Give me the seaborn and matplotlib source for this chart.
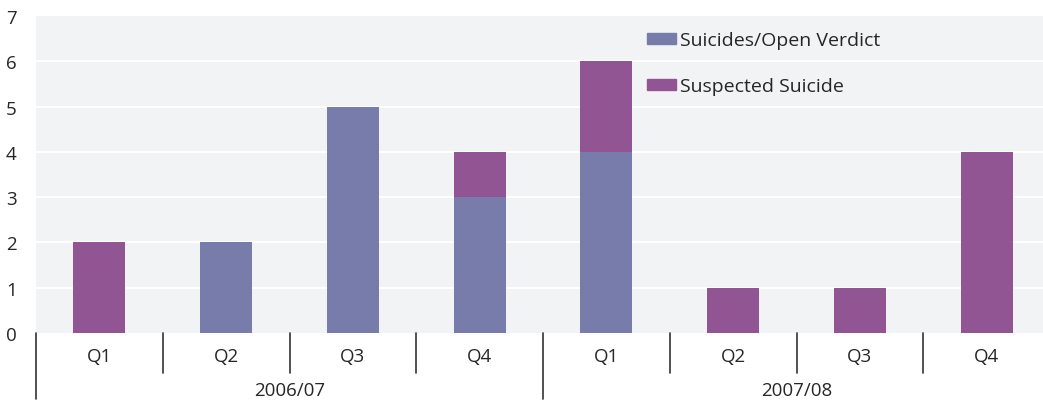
import matplotlib
matplotlib.use("Agg")
import matplotlib.pyplot as plt
import matplotlib.transforms as mtransforms
from matplotlib.patches import Patch
import seaborn as sns
import pandas as pd

# Quarterly counts
years = ["2006/07", "2007/08"]
quarters = ["Q1", "Q2", "Q3", "Q4"]
open_verdict = [0, 2, 5, 3, 4, 0, 0, 0]
suspected = [2, 0, 0, 1, 2, 1, 1, 4]
y_ticks = [0, 1, 2, 3, 4, 5, 6, 7]

labels = [f"{y} {q}" for y in years for q in quarters]
df = pd.DataFrame({
    "period": labels,
    "open": open_verdict,
    "suspected": suspected,
})
df["total"] = df["open"] + df["suspected"]

c_open = "#777cab"
c_susp = "#925594"
bg = "#f2f3f5"

sns.set_theme(style="white")
plt.rcParams["font.family"] = ["Open Sans", "DejaVu Sans"]

fig = plt.figure(figsize=(10.43, 4.02), dpi=100)
ax = fig.add_axes([36 / 1043, 68 / 402, 1014 / 1043, 317 / 402])
ax.set_facecolor(bg)

sns.barplot(data=df, x="period", y="total", order=labels, color=c_susp,
            width=0.41, saturation=1, linewidth=0, ax=ax, zorder=3)
sns.barplot(data=df, x="period", y="open", order=labels, color=c_open,
            width=0.41, saturation=1, linewidth=0, ax=ax, zorder=4)

ax.set_xlim(-0.5, len(labels) - 0.5)
ax.set_ylim(0, 7)
ax.set_yticks(y_ticks)
ax.set_yticklabels([str(v) for v in y_ticks], fontsize=13.5)
ax.tick_params(axis="y", length=0, pad=14)
for v in y_ticks[1:-1]:
    ax.axhline(v, color="white", lw=1.5, zorder=1)

ax.set_xticks(range(len(labels)))
ax.set_xticklabels(quarters * len(years), fontsize=13.5)
ax.tick_params(axis="x", length=0, pad=10)
ax.set_xlabel("")
ax.set_ylabel("")
for s in ax.spines.values():
    s.set_visible(False)

# Category separators and year labels below the axis
trans = mtransforms.blended_transform_factory(ax.transData, ax.transAxes)
px = 1 / 317
for i in range(len(labels)):
    xpos = i - 0.5
    long_line = i % 4 == 0
    y_end = -66 * px if long_line else -40 * px
    ax.plot([xpos, xpos], [0, y_end], transform=trans, color="#333333",
            lw=1.2, clip_on=False)
for j, y in enumerate(years):
    ax.text(j * 4 + 1.5, -57 * px, y, transform=trans, ha="center",
            va="center", fontsize=13.5)

handles = [Patch(color=c_open, label="Suicides/Open Verdict"),
           Patch(color=c_susp, label="Suspected Suicide")]
ax.legend(handles=handles, loc="upper left", bbox_to_anchor=(0.585, 1.008),
          frameon=False, fontsize=14, handlelength=1.5, handleheight=0.5,
          handletextpad=0.2, labelspacing=1.45)

fig.savefig("out.png", dpi=100, facecolor="white")
